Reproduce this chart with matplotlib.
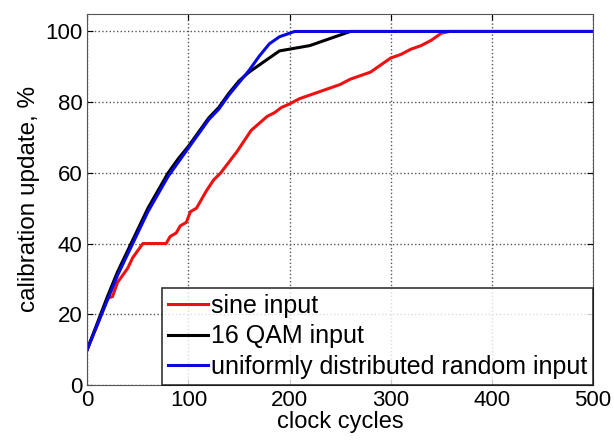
import matplotlib.pyplot as plt

plt.rcParams['font.family'] = ['Liberation Sans', 'DejaVu Sans']

# Sine input
sine_x = [0, 10, 20, 25, 30, 40, 45, 50, 55, 78, 82, 88, 92, 98, 102, 108, 112, 118, 125, 132,
          140, 148, 155, 162, 170, 178, 185, 192, 200, 210, 220, 230, 240, 250, 260, 270, 280,
          290, 300, 310, 320, 330, 340, 350, 358, 500]
sine_y = [10, 17, 24.5, 25, 29, 33, 36, 38, 40, 40, 42, 43, 45, 46, 49, 50, 52, 55, 58, 60,
          63, 66, 69, 72, 74, 76, 77, 78.5, 79.5, 81, 82, 83, 84, 85, 86.5, 87.5, 88.5,
          90.5, 92.5, 93.5, 95, 96, 97.5, 99.5, 100, 100]

# 16 QAM input
qam_x = [0, 10, 20, 30, 40, 50, 60, 70, 80, 90, 100, 110, 120, 130, 140, 150, 160, 170, 180,
         190, 200, 210, 220, 230, 240, 250, 260, 500]
qam_y = [10, 17.5, 25, 32, 38, 44, 50, 55, 60, 64, 67.5, 71.5, 75.5, 78.5, 82.5, 86, 88.5,
         90.5, 92.5, 94.5, 95, 95.5, 96, 97, 98, 99, 100, 100]

# uniformly distributed random input
rand_x = [0, 10, 20, 30, 40, 50, 60, 70, 80, 90, 100, 110, 120, 130, 140, 150, 160, 170, 180,
          190, 200, 205, 500]
rand_y = [10, 17, 24, 31, 37, 43, 49, 54, 59, 63, 67, 71, 75, 78, 82, 85.5, 89, 93, 96.5,
          98.5, 99.5, 100, 100]

fig = plt.figure(figsize=(6.14, 4.45), dpi=100)
ax = fig.add_axes([0.142, 0.135, 0.824, 0.834])

ax.plot(sine_x, sine_y, color='#ee1111', lw=2.2, label='sine input')
ax.plot(qam_x, qam_y, color='black', lw=2.2, label='16 QAM input')
ax.plot(rand_x, rand_y, color='#0a0ae0', lw=2.2, label='uniformly distributed random input')

ax.set_xlim(0, 500)
ax.set_ylim(0, 105)
ax.set_xticks([0, 100, 200, 300, 400, 500])
ax.set_yticks([0, 20, 40, 60, 80, 100])
ax.grid(True, linestyle=':', color='#555555', lw=1)
ax.tick_params(direction='in', top=True, right=True, labelsize=16, length=4)
ax.tick_params(axis='x', pad=4)
for s in ax.spines.values():
    s.set_color('#555555')

ax.set_xlabel('clock cycles', fontsize=17, labelpad=0)
ax.set_ylabel('calibration update, %', fontsize=17.5, labelpad=4)

leg = ax.legend(loc='lower right', fontsize=18, borderaxespad=0, handlelength=1.6,
                handletextpad=0.1, labelspacing=0.25, borderpad=0.25, fancybox=False)
leg.get_frame().set_edgecolor('black')
leg.get_frame().set_linewidth(1.2)

fig.savefig('out.png', dpi=100)
